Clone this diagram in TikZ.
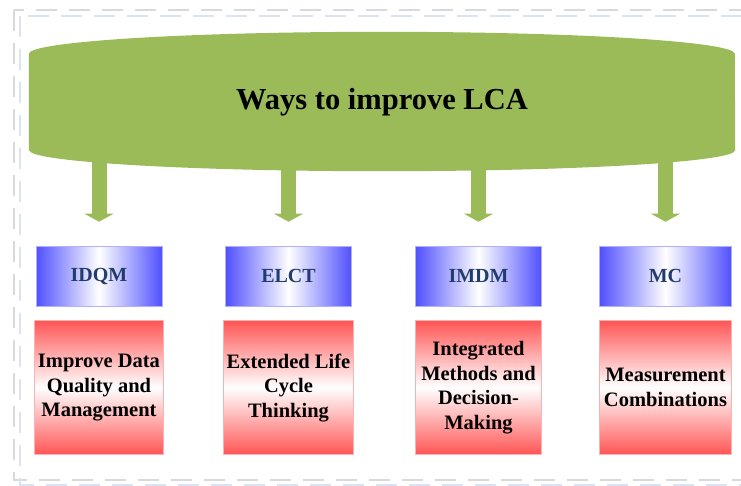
\documentclass[tikz,border=0pt]{standalone}
\usepackage{fontspec}
\setmainfont{Liberation Serif}
\usetikzlibrary{positioning,arrows.meta,backgrounds}
\definecolor{lcagreen}{RGB}{155,187,89}
\definecolor{gradblue}{RGB}{80,80,255}
\definecolor{gradred}{RGB}{255,85,85}
\definecolor{abbrnavy}{RGB}{35,60,110}
\definecolor{framegray}{RGB}{217,217,217}
\definecolor{frameblue}{RGB}{218,227,243}
\tikzset{
  framedash/.style={line width=2.5pt,dash pattern=on 21pt off 12pt},
  abbrbox/.style={draw=gradblue!45,line width=0.6pt,
    left color=gradblue,right color=gradblue,middle color=white,
    minimum width=126pt,minimum height=60pt,text=abbrnavy,
    font=\fontsize{20}{24}\selectfont\bfseries},
  descbox/.style={draw=gradred!45,line width=0.6pt,
    top color=gradred,bottom color=gradred,middle color=white,
    minimum width=126pt,minimum height=134pt,align=center,
    font=\fontsize{20.5}{24.5}\selectfont\bfseries},
  flowarrow/.style={lcagreen,line width=15pt,
    -{Triangle[width=29pt,length=8pt]}}
}

\begin{document}
\begin{tikzpicture}[x=1pt,y=1pt]
        \useasboundingbox (0,0) rectangle (741,-485);
        \clip (0,0) rectangle (741,-485);
        % dashed outer frame
        \draw[framedash,framegray] (14,-10) rectangle (770,-480);
        \draw[framedash,frameblue] (20,-16) rectangle (770,-485);
        % title
        \node[font=\fontsize{30.5}{36}\selectfont\bfseries,
              minimum width=706pt,minimum height=96pt]
          (ways) at (382,-102) {Ways to improve LCA};
        \begin{scope}[on background layer]
          \fill[lcagreen] (ways.south west) -- (ways.north west)
            arc[start angle=180,end angle=0,x radius=353pt,y radius=22pt]
            -- (ways.south east)
            arc[start angle=0,end angle=-180,x radius=353pt,y radius=21pt]
            -- cycle;
        \end{scope}
        % abbreviations
        \node[abbrbox] (idqm) at (99,-276) {IDQM};
        \node[abbrbox] (elct) at (288.5,-276) {ELCT};
        \node[abbrbox] (imdm) at (478.5,-276) {IMDM};
        \node[abbrbox,minimum width=132pt] (mc) at (665.5,-276) {MC};
        % descriptions
        \node[descbox,below=14pt of idqm] (idqmdesc)
          {Improve Data\\Quality and\\Management};
        \node[descbox,below=14pt of elct] (elctdesc)
          {Extended Life\\Cycle\\Thinking};
        \node[descbox,below=14pt of imdm] (imdmdesc)
          {Integrated\\Methods and\\Decision-\\Making};
        \node[descbox,minimum width=132pt,below=14pt of mc] (mcdesc)
          {Measurement\\Combinations};
        % arrows
        \foreach \abbr in {idqm,elct,imdm,mc}
          \draw[flowarrow] (\abbr |- ways.south) -- ([yshift=24pt]\abbr.north);
      \end{tikzpicture}
\end{document}
